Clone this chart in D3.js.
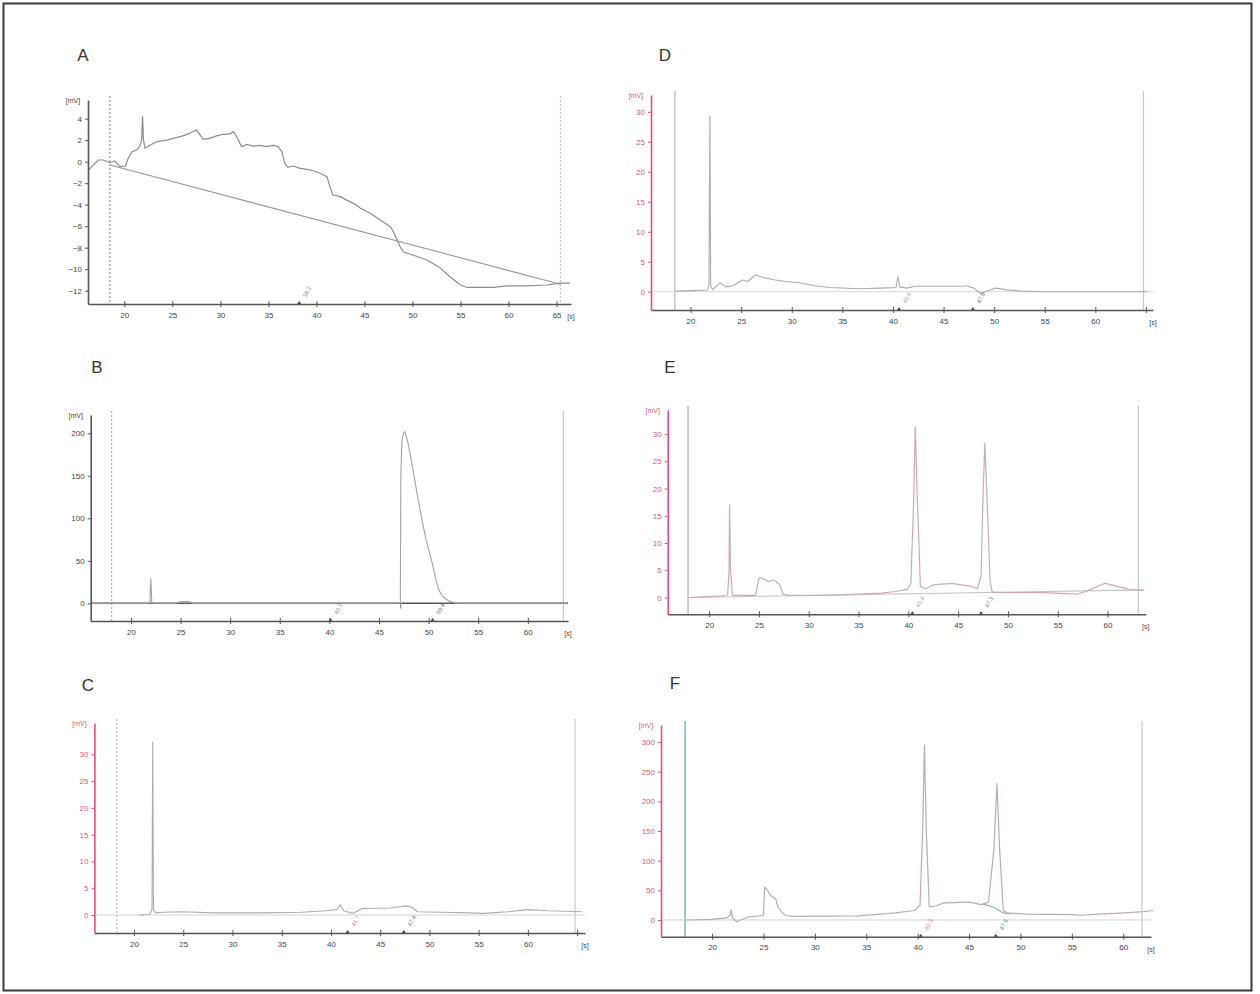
<!DOCTYPE html>
<html>
<head>
<meta charset="utf-8">
<script src="https://cdn.jsdelivr.net/npm/d3@7"></script>
<style>
  body { margin: 0; background: #fff; }
  svg { display: block; }
  text { font-family: Arial, "Liberation Sans", sans-serif; }
</style>
</head>
<body>
<svg id="chart" width="1260" height="994"></svg>
<script>
// ---- Chromatogram data: [retention time (s), signal (mV)] ----
const traceA = [[16.25,-0.77],[16.8,-0.3],[17.3,0.16],[17.8,0.16],[18.5,-0.1],[19.0,0.07],[19.55,-0.46],[20.1,-0.4],[20.4,0.3],[20.8,0.93],[21.3,1.09],[21.6,1.4],[21.8,2.0],[21.9,4.2],[22.0,2.0],[22.15,1.25],[22.7,1.55],[23.4,1.86],[24.4,2.0],[25.1,2.17],[26.1,2.4],[26.8,2.64],[27.5,2.95],[27.9,2.48],[28.2,2.08],[28.9,2.17],[29.6,2.4],[30.3,2.55],[31.0,2.58],[31.35,2.8],[31.7,2.33],[32.2,1.4],[32.75,1.6],[33.45,1.45],[34.1,1.52],[34.8,1.4],[35.5,1.52],[36.0,1.4],[36.4,0.93],[36.7,-0.15],[37.05,-0.52],[37.6,-0.4],[38.3,-0.62],[39.0,-0.71],[39.7,-0.84],[40.4,-1.08],[41.1,-1.4],[41.4,-2.3],[41.7,-3.1],[42.5,-3.25],[43.2,-3.6],[43.9,-3.9],[44.55,-4.3],[45.6,-4.8],[46.6,-5.4],[47.7,-6.05],[48.0,-6.5],[48.4,-7.3],[48.7,-7.9],[49.05,-8.4],[50.1,-8.7],[51.5,-9.15],[52.9,-9.9],[53.9,-10.7],[55.0,-11.47],[55.7,-11.7],[57.1,-11.7],[58.4,-11.7],[59.8,-11.56],[61.9,-11.56],[64.0,-11.47],[65.4,-11.3],[66.4,-11.3]];
const baseA = [[18.5,-0.3],[65.4,-11.4]];

const traceB = [[15.94,0],[21.9,0],[22.0,29],[22.1,0],[24.5,0],[25.0,2],[25.8,2],[26.2,0],[47.15,0],[47.2,150],[47.3,190],[47.45,200],[47.6,202],[47.9,190],[48.2,172],[48.53,150],[48.9,125],[49.3,100],[49.8,72],[50.31,50],[50.7,30],[50.98,17],[51.4,8],[52.0,3],[52.6,0.5],[53.2,0],[64.0,0]];
const dropB = [[47.18,0],[47.18,-6]];

const traceC = [[20.5,0],[21.6,0.1],[21.83,1],[21.9,32.3],[21.98,1],[22.2,0.4],[23,0.5],[25,0.6],[28,0.4],[33,0.4],[37,0.5],[39.5,0.8],[40.6,1.0],[40.96,1.9],[41.3,0.8],[42.2,0.3],[43.2,1.2],[46,1.3],[47.6,1.7],[48.2,1.5],[48.8,0.6],[51,0.5],[54,0.4],[55.5,0.3],[58,0.6],[60,1.0],[62,0.8],[65.5,0.6]];

const traceD = [[18.54,0.1],[21.65,0.28],[21.82,1],[21.91,29.2],[21.99,1],[22.19,0.3],[22.92,1.5],[23.47,0.8],[24.21,1.0],[25.12,1.95],[25.67,1.7],[26.4,2.8],[27.13,2.4],[28.23,2.0],[29.33,1.7],[30.79,1.5],[32.25,1.0],[33.72,0.7],[36.64,0.5],[38.83,0.6],[40.3,0.7],[40.5,2.5],[40.66,0.8],[41.39,0.6],[42.12,0.9],[46.88,0.9],[47.24,1.0],[47.97,0.6],[48.7,-0.3],[49.43,0.2],[50.17,0.6],[51.27,0.3],[52.73,0.1],[54.92,0],[65.15,0]];

const traceE = [[17.96,0],[21.3,0.3],[21.86,0.5],[22.0,5],[22.05,17],[22.15,5],[22.34,0.4],[24.65,0.4],[25.02,3.6],[25.39,3.5],[25.95,2.9],[26.5,3.2],[27.06,2.4],[27.43,0.6],[27.99,0.4],[31.33,0.4],[35.05,0.6],[37.28,0.8],[38.76,1.1],[39.88,1.5],[40.25,2.5],[40.54,18],[40.69,31.4],[40.91,18],[41.21,2.0],[41.74,1.6],[42.48,2.3],[44.34,2.6],[46.2,2.1],[46.94,1.6],[47.3,4],[47.49,18],[47.68,28.3],[47.97,15],[48.2,3],[48.42,1.0],[49.9,0.9],[53.63,0.9],[56.96,0.6],[58.07,1.3],[59.75,2.6],[61.05,2.0],[62.16,1.5],[63.65,1.3]];
const baseE = [[17.96,0],[63.65,1.4]];

const traceF = [[17.37,0],[19.9,1],[21.33,3],[21.76,8],[21.87,17],[21.98,4],[22.41,-3],[23.49,5],[24.57,7],[25.0,8],[25.11,56],[25.4,50],[25.65,42],[26.01,37],[26.2,35],[26.37,23],[26.73,14],[27.09,8],[27.81,6],[34.29,7],[37.89,12],[39.69,16],[40.23,25],[40.48,150],[40.66,295],[40.84,150],[41.13,22],[41.85,24],[42.57,29],[45.09,30],[46.17,26],[46.89,30],[47.42,120],[47.71,230],[47.97,120],[48.33,16],[48.69,12],[50.49,10],[55.16,9],[55.89,8],[57.68,10],[60.2,12],[62.0,14],[62.9,16]];
const baseF = [[46.3,27],[47.4,22],[48.3,12],[49.0,10]];

// ---- Tick values ----
const timeTicks = [20, 25, 30, 35, 40, 45, 50, 55, 60, 65];
const yTicksA = [4, 2, 0, -2, -4, -6, -8, -10, -12];
const yTicksB = [0, 50, 100, 150, 200];
const yTicksCDE = [0, 5, 10, 15, 20, 25, 30];
const yTicksF = [0, 50, 100, 150, 200, 250, 300];

// ---- Integration cursors and peak markers (retention times) ----
const cursorsA = [18.5, 65.4], cursorsB = [18.05, 63.58], cursorsC = [18.26, 64.79];
const cursorsD = [18.45, 64.76], cursorsE = [17.88, 63.09], cursorsF = [17.37, 61.82];
const markersA = [38.2], markersB = [40.1, 50.4], markersC = [41.7, 47.4];
const markersD = [40.6, 47.9], markersE = [40.4, 47.3], markersF = [40.3, 47.6];

const svg = d3.select('#chart');

// frame
svg.append('rect')
  .attr('x', 3.5).attr('y', 3.5).attr('width', 1248).attr('height', 987)
  .attr('fill', 'none').attr('stroke', '#3a3a3a').attr('stroke-width', 2);

const line = d3.line();

function drawPanel(p) {
  const x = d3.scaleLinear().domain(p.xDom).range([p.left, p.right]);
  const y = d3.scaleLinear().domain(p.yDom).range([p.bottom, p.top]);
  const g = svg.append('g');
  line.x(d => x(d[0])).y(d => y(d[1]));

  g.append('text').attr('x', p.letterX).attr('y', p.letterY)
    .attr('font-size', 17).attr('fill', '#333').attr('text-anchor', 'middle')
    .text(p.letter);

  // cursor lines
  p.cursors.forEach((c, i) => {
    g.append('line')
      .attr('x1', x(c)).attr('x2', x(c))
      .attr('y1', p.top - 4).attr('y2', p.bottom)
      .attr('stroke', i === 0 ? p.cursor1Color : '#c8c8c8')
      .attr('stroke-width', 1.2)
      .attr('stroke-dasharray', p.dotted[i] ? '2,2' : null);
  });

  // zero reference
  if (p.zeroColor) {
    g.append('line')
      .attr('x1', p.left).attr('x2', p.right)
      .attr('y1', y(0)).attr('y2', y(0))
      .attr('stroke', p.zeroColor).attr('stroke-width', p.zeroWidth);
  }

  (p.bases || []).forEach(b => {
    g.append('path').attr('d', line(b.data)).attr('fill', 'none')
      .attr('stroke', b.color).attr('stroke-width', 1.1);
  });

  g.append('path').attr('d', line(p.trace)).attr('fill', 'none')
    .attr('stroke', p.traceColor).attr('stroke-width', p.traceWidth)
    .attr('stroke-linejoin', 'round');

  // peak markers: small triangle on the axis and a slanted label
  p.markers.forEach((m, i) => {
    const mx = x(m);
    const col = p.markerColors[i];
    g.append('path')
      .attr('d', `M${mx - 2},${p.bottom} L${mx + 2},${p.bottom} L${mx},${p.bottom - 3} Z`)
      .attr('fill', '#444');
    g.append('text')
      .attr('transform', `translate(${mx + 7},${p.bottom - 6}) rotate(-62)`)
      .attr('font-size', 6).attr('fill', col)
      .text(m.toFixed(1));
  });

  // axes
  const xAxis = d3.axisBottom(x)
    .tickValues(timeTicks.filter(t => t <= p.xDom[1]))
    .tickFormat(t => p.xLabels.includes(t) ? t : '')
    .tickSize(3).tickSizeOuter(0).tickPadding(5);
  const xg = g.append('g').attr('transform', `translate(0,${p.bottom})`).call(xAxis);
  xg.select('.domain').attr('stroke', '#555').attr('stroke-width', 1.6);
  xg.selectAll('.tick line').attr('y1', -3).attr('stroke', '#555');
  xg.selectAll('.tick text').attr('font-size', 8).attr('fill', '#444')
    .attr('font-family', 'Arial, "Liberation Sans", sans-serif');

  const yAxis = d3.axisLeft(y).tickValues(p.yTicks)
    .tickSize(3).tickSizeOuter(0).tickPadding(3);
  const yg = g.append('g').attr('transform', `translate(${p.left},0)`).call(yAxis);
  yg.select('.domain').attr('stroke', p.yAxisColor).attr('stroke-width', 1.6);
  yg.selectAll('.tick line').attr('stroke', p.yAxisColor);
  yg.selectAll('.tick text').attr('font-size', 8).attr('fill', p.yLabelColor)
    .attr('font-family', 'Arial, "Liberation Sans", sans-serif');

  g.append('text').attr('x', p.left - 15).attr('y', p.top + 3)
    .attr('font-size', 7).attr('fill', p.yLabelColor).attr('text-anchor', 'middle')
    .text('[mV]');
  g.append('text').attr('x', p.right).attr('y', p.bottom + 15)
    .attr('font-size', 7).attr('fill', '#444').attr('text-anchor', 'middle')
    .text('[s]');
}

const pink = '#e0507c';
const pinkLabel = '#d85a82';

drawPanel({ letter: 'A', letterX: 83, letterY: 61,
  left: 88, right: 571, top: 100, bottom: 304,
  xDom: [16.22, 66.5], yDom: [-13.24, 5.74],
  xLabels: [20,25,30,35,40,45,50,55,60,65], yTicks: yTicksA,
  trace: traceA, traceColor: '#8c8c8c', traceWidth: 1.2,
  bases: [{ data: baseA, color: '#979797' }],
  cursors: cursorsA, dotted: [true, true], cursor1Color: '#9a9a9a',
  markers: markersA, markerColors: ['#999'],
  yAxisColor: '#555', yLabelColor: '#444' });

drawPanel({ letter: 'B', letterX: 97, letterY: 373,
  left: 90.7, right: 568, top: 415, bottom: 621,
  xDom: [15.94, 64.05], yDom: [-20.8, 221.5],
  xLabels: [20,25,30,35,40,45,50,55,60], yTicks: yTicksB,
  trace: traceB, traceColor: '#a2a2a2', traceWidth: 1.1,
  bases: [{ data: dropB, color: '#888' }],
  zeroColor: '#555', zeroWidth: 1.5,
  cursors: cursorsB, dotted: [true, false], cursor1Color: '#b0b0b0',
  markers: markersB, markerColors: ['#999', '#777'],
  yAxisColor: '#555', yLabelColor: '#444' });

drawPanel({ letter: 'C', letterX: 88, letterY: 691,
  left: 94.4, right: 585, top: 723, bottom: 933,
  xDom: [15.98, 65.8], yDom: [-3.36, 35.84],
  xLabels: [20,25,30,35,40,45,50,55,60], yTicks: yTicksCDE,
  trace: traceC, traceColor: '#adadad', traceWidth: 1.1,
  zeroColor: '#d4d4d4', zeroWidth: 1,
  cursors: cursorsC, dotted: [true, false], cursor1Color: '#b8b8b8',
  markers: markersC, markerColors: ['#e070a0', '#6a8a7a'],
  yAxisColor: pink, yLabelColor: pinkLabel });

drawPanel({ letter: 'D', letterX: 665, letterY: 61,
  left: 651, right: 1153, top: 95, bottom: 310,
  xDom: [16.09, 65.7], yDom: [-3.05, 32.8],
  xLabels: [20,25,30,35,40,45,50,55,60], yTicks: yTicksCDE,
  trace: traceD, traceColor: '#ababab', traceWidth: 1.1,
  zeroColor: '#d6d6d6', zeroWidth: 1,
  cursors: cursorsD, dotted: [false, false], cursor1Color: '#b4b4b4',
  markers: markersD, markerColors: ['#aaa', '#777'],
  yAxisColor: pink, yLabelColor: pinkLabel });

drawPanel({ letter: 'E', letterX: 670, letterY: 373,
  left: 667.7, right: 1145.7, top: 410, bottom: 614.3,
  xDom: [15.84, 63.83], yDom: [-3.09, 34.43],
  xLabels: [20,25,30,35,40,45,50,55,60], yTicks: yTicksCDE,
  trace: traceE, traceColor: '#cbabb2', traceWidth: 1.2,
  bases: [{ data: baseE, color: '#c2c2c2' }],
  cursors: cursorsE, dotted: [false, false], cursor1Color: '#acacac',
  markers: markersE, markerColors: ['#aaa', '#888'],
  yAxisColor: pink, yLabelColor: pinkLabel });

drawPanel({ letter: 'F', letterX: 675, letterY: 689,
  left: 661, right: 1151, top: 725, bottom: 936.7,
  xDom: [15.03, 62.7], yDom: [-28.2, 328.8],
  xLabels: [20,25,30,35,40,45,50,55,60], yTicks: yTicksF,
  trace: traceF, traceColor: '#baacb0', traceWidth: 1.2,
  bases: [{ data: baseF, color: '#7fb3a4' }],
  zeroColor: '#d4d4d4', zeroWidth: 1,
  cursors: cursorsF, dotted: [false, false], cursor1Color: '#59a894',
  markers: markersF, markerColors: ['#e28aa8', '#4e9a84'],
  yAxisColor: pink, yLabelColor: pinkLabel });
</script>
</body>
</html>
